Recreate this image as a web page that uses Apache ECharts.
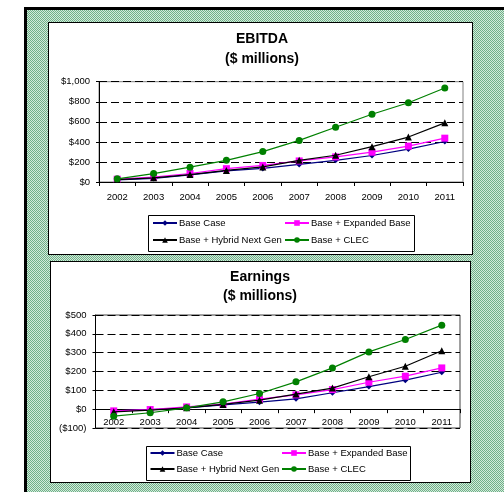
<!DOCTYPE html>
<html>
<head>
<meta charset="utf-8">
<script src="https://cdn.jsdelivr.net/npm/echarts@6/dist/echarts.min.js"></script>
<style>
  html, body { margin:0; padding:0; background:#fff; width:504px; height:492px; overflow:hidden; }
  #frame { position:absolute; left:24px; top:7px; width:500px; height:500px;
    border-left:3px solid #000; border-top:3px solid #000;
    background-color:#a0cdb0;
    background-image: repeating-conic-gradient(#6fb088 0 25%, #d3eadb 0 50%);
    background-size: 2px 2px; }
  .panel { position:absolute; background:#fff; border:1px solid #000; box-sizing:border-box; }
  #p1 { left:48px; top:22px; width:425px; height:233px; }
  #p2 { left:50px; top:261px; width:421px; height:222px; }
  #chart { position:absolute; left:0; top:0; width:504px; height:492px; }
</style>
</head>
<body>
<div id="frame"></div>
<div class="panel" id="p1"></div>
<div class="panel" id="p2"></div>
<div id="chart"></div>
<script>
const years = ['2002','2003','2004','2005','2006','2007','2008','2009','2010','2011'];
const seriesNames = ['Base Case','Base + Expanded Base','Base + Hybrid Next Gen','Base + CLEC'];

// EBITDA ($ millions)
const ebitdaBase     = [22, 35, 72, 110, 135, 175, 216, 264, 328, 404];
const ebitdaExpanded = [28, 48, 85, 133, 165, 210, 250, 297, 358, 437];
const ebitdaHybrid   = [24, 42, 74, 115, 150, 216, 267, 352, 448, 590];
const ebitdaClec     = [32, 84, 148, 216, 303, 415, 546, 675, 790, 937];

// Earnings ($ millions)
const earnBase     = [-9, -2, 7, 23, 37, 55, 87, 120, 154, 196];
const earnExpanded = [-9, -2, 12, 27, 53, 76, 104, 143, 175, 219];
const earnHybrid   = [-14, -5, 7, 25, 48, 80, 112, 172, 228, 310];
const earnClec     = [-37, -19, 7, 39, 83, 145, 219, 304, 370, 446];

const ebitdaTickLabels = ['$0','$200','$400','$600','$800','$1,000'];
const earnTickLabels   = ['($100)','$0','$100','$200','$300','$400','$500'];

const FONT = 'Liberation Sans, Arial, sans-serif';
const colors = ['#000080','#FF00FF','#000000','#008000'];
const symbols = ['diamond','rect','triangle','circle'];
const symSizes = [6, 7, 7, 7];

const chart = echarts.init(document.getElementById('chart'), null, {renderer:'canvas'});

function makeSeries(dataSets, idx) {
  return dataSets.map((d, i) => ({
    name: seriesNames[i], type: 'line', data: d,
    xAxisIndex: idx, yAxisIndex: idx,
    symbol: symbols[i], symbolSize: symSizes[i], showSymbol: true,
    lineStyle: { color: colors[i], width: 1.2 },
    itemStyle: { color: colors[i] },
    z: 2 + i, animation: false
  }));
}

function makeLegends(lefts, tops) {
  const out = [];
  seriesNames.forEach((n, i) => {
    out.push({
      data: [n], left: lefts[i % 2], top: tops[Math.floor(i / 2)],
      padding: 0, itemWidth: 24, itemHeight: 7, itemGap: 0,
      textStyle: { fontFamily: FONT, fontSize: 9.5, color: '#000', padding: [0,0,0,-3] },
      z: 10
    });
  });
  return out;
}

// lower plot: height 113 px for 600 units, so the zero line sits 113/6 px above the bottom
const lowerGridHeight = 113;
const zeroOffset = -lowerGridHeight * (100 / 600);

function makeX(idx, margin, offset) {
  return {
    type: 'category', data: years, gridIndex: idx, boundaryGap: true, position: 'bottom', offset: offset,
    axisLine: { show: true, onZero: false, lineStyle: { color: '#000', width: 1 } },
    axisTick: { show: true, length: 4, lineStyle: { color: '#000' }, alignWithLabel: false },
    axisLabel: { fontFamily: FONT, fontSize: 9.5, color: '#000', margin: margin, interval: 0 },
    splitLine: { show: false }
  };
}

chart.setOption({
  animation: false,
  graphic: [
    { type: 'text', x: 262, y: 39, z: 5, style: { text: 'EBITDA', font: 'bold 14px ' + FONT, textAlign: 'center', textVerticalAlign: 'middle', fill: '#000' } },
    { type: 'text', x: 262, y: 59, z: 5, style: { text: '($ millions)', font: 'bold 14px ' + FONT, textAlign: 'center', textVerticalAlign: 'middle', fill: '#000' } },
    { type: 'text', x: 260, y: 277, z: 5, style: { text: 'Earnings', font: 'bold 14px ' + FONT, textAlign: 'center', textVerticalAlign: 'middle', fill: '#000' } },
    { type: 'text', x: 260, y: 296, z: 5, style: { text: '($ millions)', font: 'bold 14px ' + FONT, textAlign: 'center', textVerticalAlign: 'middle', fill: '#000' } },
    { type: 'rect', z: 1, shape: { x: 148.5, y: 215.5, width: 266, height: 36 }, style: { fill: '#fff', stroke: '#000', lineWidth: 1 } },
    { type: 'rect', z: 1, shape: { x: 146.5, y: 446.5, width: 264, height: 34 }, style: { fill: '#fff', stroke: '#000', lineWidth: 1 } }
  ],
  legend: makeLegends([152, 284], [218, 235]).concat(makeLegends([149.5, 281], [448, 464])),
  grid: [
    { left: 99, top: 81.7, width: 364, height: 100.3, show: true, borderColor: '#808080', borderWidth: 1, backgroundColor: 'transparent' },
    { left: 95.5, top: 315, width: 364.5, height: lowerGridHeight, show: true, borderColor: '#404040', borderWidth: 1, backgroundColor: 'transparent' }
  ],
  xAxis: [makeX(0, 10, 0), makeX(1, 8, zeroOffset)],
  yAxis: [
    { type: 'value', gridIndex: 0, min: 0, max: 1000, interval: 200,
      axisLine: { show: true, lineStyle: { color: '#000' } },
      axisTick: { show: true, length: 3, lineStyle: { color: '#000' } },
      axisLabel: { fontFamily: FONT, fontSize: 9.5, color: '#000', margin: 9,
        formatter: (v, i) => ebitdaTickLabels[i] },
      splitLine: { show: true, lineStyle: { color: '#000', width: 1, type: [8, 4] } } },
    { type: 'value', gridIndex: 1, min: -100, max: 500, interval: 100,
      axisLine: { show: true, lineStyle: { color: '#000' } },
      axisTick: { show: true, length: 3, lineStyle: { color: '#000' } },
      axisLabel: { fontFamily: FONT, fontSize: 9.5, color: '#000', margin: 9,
        formatter: (v, i) => earnTickLabels[i] },
      splitLine: { show: true, lineStyle: { color: '#000', width: 1, type: [8, 4] } } }
  ],
  series: makeSeries([ebitdaBase, ebitdaExpanded, ebitdaHybrid, ebitdaClec], 0)
    .concat(makeSeries([earnBase, earnExpanded, earnHybrid, earnClec], 1))
});
</script>
</body>
</html>
